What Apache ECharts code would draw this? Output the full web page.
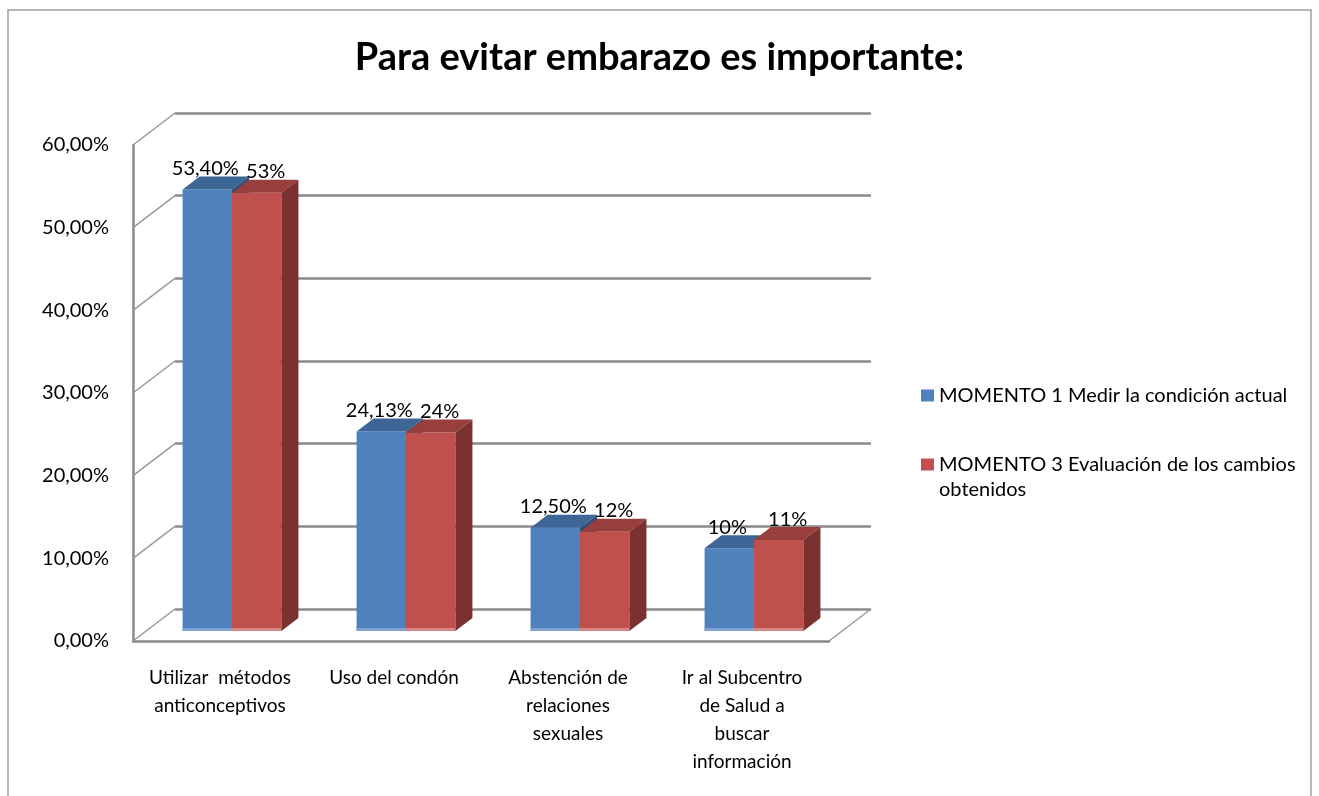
<!DOCTYPE html>
<html>
<head>
<meta charset="utf-8">
<script src="https://cdn.jsdelivr.net/npm/echarts@6/dist/echarts.min.js"></script>
<style>
  html, body { margin: 0; padding: 0; background: #fff; }
  #chart { width: 1319px; height: 796px; }
</style>
</head>
<body>
<div id="chart"></div>
<script>
// datos
var categorias = [
  "Utilizar  métodos\nanticonceptivos",
  "Uso del condón",
  "Abstención de\nrelaciones\nsexuales",
  "Ir al Subcentro\nde Salud a\nbuscar\ninformación"
];
var nombres = [
  "MOMENTO 1 Medir la condición actual",
  "MOMENTO 3 Evaluación de los cambios obtenidos"
];
var momento1 = [53.4, 24.13, 12.5, 10];
var momento3 = [53, 24, 12, 11];
var etiquetas1 = ["53,40%", "24,13%", "12,50%", "10%"];
var etiquetas3 = ["53%", "24%", "12%", "11%"];
var ticks = [0, 10, 20, 30, 40, 50, 60];

var FONT = "Lato";
// profundidad de la pared (perspectiva)
var WALL_DX = 42, WALL_DY = -32;
// posicion de la cara frontal de las barras y su profundidad
var BAR_DX = 12, BAR_DY = -10;
var DEPTH_DX = 17, DEPTH_DY = -13;
var BAR_RATIO = 0.284;

var colores = {
  azul: { front: "#4F81BD", top: "#3D6696", side: "#2F5078", base: "#7EA2D2" },
  rojo: { front: "#C0504D", top: "#983F3D", side: "#7B3130", base: "#D68885" }
};

var myChart = echarts.init(document.getElementById("chart"));

function barra(shift, col, etiquetas, labelDx) {
  return function (params, api) {
    var i = api.value(0);
    var v = api.value(1);
    var base = api.coord([i, 0]);
    var top = api.coord([i, v]);
    var bw = api.size([1, 0])[0] * BAR_RATIO;
    var x0 = base[0] + shift * bw + BAR_DX;
    var x1 = x0 + bw;
    var yb = base[1] + BAR_DY;
    var yt = top[1] + BAR_DY;
    return {
      type: "group",
      children: [
        { type: "rect", shape: { x: x0, y: yt, width: bw, height: yb - yt },
          style: { fill: col.front } },
        { type: "rect", shape: { x: x0, y: yb - 3, width: bw, height: 3 },
          style: { fill: col.base } },
        { type: "polygon",
          shape: { points: [[x0, yt], [x1, yt], [x1 + DEPTH_DX, yt + DEPTH_DY], [x0 + DEPTH_DX, yt + DEPTH_DY]] },
          style: { fill: col.top } },
        { type: "polygon",
          shape: { points: [[x1, yt], [x1 + DEPTH_DX, yt + DEPTH_DY], [x1 + DEPTH_DX, yb + DEPTH_DY], [x1, yb]] },
          style: { fill: col.side } },
        { type: "text",
          style: { text: etiquetas[params.dataIndex], x: (x0 + x1) / 2 + labelDx, y: yt - 21,
            fill: "#000", font: "20px " + FONT, align: "center", verticalAlign: "middle" } }
      ]
    };
  };
}

var option = {
  animation: false,
  title: {
    text: "Para evitar embarazo es importante:",
    left: "center",
    top: 34,
    textStyle: { fontFamily: FONT, fontSize: 38, fontWeight: "bold", color: "#000" }
  },
  legend: {
    orient: "vertical",
    left: 916,
    top: 378,
    itemWidth: 13,
    itemHeight: 12,
    itemGap: 19,
    icon: "rect",
    data: nombres,
    formatter: function (name) {
      if (name === nombres[1]) return " \n" + name.replace(" obtenidos", "\nobtenidos");
      return name;
    },
    textStyle: { fontFamily: FONT, fontSize: 20, lineHeight: 25, color: "#000" }
  },
  graphic: [
    { type: "rect", shape: { x: 8, y: 10, width: 1303, height: 800 },
      style: { fill: null, stroke: "#a0a0a0", lineWidth: 1.5 }, silent: true }
  ],
  grid: [
    // plano frontal
    { left: 133, top: 145, width: 696, height: 496 },
    // pared del fondo
    { left: 133 + WALL_DX, top: 145 + WALL_DY, width: 696, height: 496 }
  ],
  xAxis: [
    {
      gridIndex: 0,
      type: "category",
      data: categorias,
      axisLine: { show: true, lineStyle: { color: "#8a8a8a", width: 2.5 } },
      axisTick: { show: false },
      axisLabel: { interval: 0, margin: 23, fontFamily: FONT, fontSize: 19, lineHeight: 28, color: "#000" }
    },
    {
      gridIndex: 1,
      type: "category",
      data: categorias,
      axisLine: { show: false },
      axisTick: { show: false },
      axisLabel: { show: false }
    }
  ],
  yAxis: [
    {
      gridIndex: 0,
      type: "value",
      min: 0,
      max: 60,
      interval: 10,
      axisLine: { show: true, lineStyle: { color: "#8a8a8a", width: 2.5 } },
      axisTick: { show: false },
      splitLine: { show: false },
      axisLabel: {
        margin: 24,
        fontFamily: FONT,
        fontSize: 20,
        color: "#000",
        padding: [5, 0, 0, 0],
        formatter: function (v) { return v.toFixed(2).replace(".", ",") + "%"; }
      }
    },
    {
      gridIndex: 1,
      type: "value",
      min: 0,
      max: 60,
      interval: 10,
      axisLine: { show: false },
      axisTick: { show: false },
      axisLabel: { show: false },
      splitLine: { show: true, lineStyle: { color: "#8a8a8a", width: 2.5 } }
    }
  ],
  series: [
    {
      // diagonales de la pared lateral y del piso
      type: "custom",
      silent: true,
      xAxisIndex: 0,
      yAxisIndex: 0,
      data: ticks.map(function (t) { return [0, t]; }),
      renderItem: function (params, api) {
        var cs = params.coordSys;
        var y = api.coord([0, api.value(1)])[1];
        var kids = [
          { type: "line", shape: { x1: cs.x, y1: y, x2: cs.x + WALL_DX, y2: y + WALL_DY },
            style: { stroke: "#9a9a9a", lineWidth: 1.5 } }
        ];
        if (api.value(1) === 0) {
          var xr = cs.x + cs.width;
          kids.push({ type: "line", shape: { x1: xr, y1: y, x2: xr + WALL_DX, y2: y + WALL_DY },
            style: { stroke: "#9a9a9a", lineWidth: 1.5 } });
        }
        return { type: "group", children: kids };
      },
      z: 1
    },
    {
      name: nombres[0],
      type: "custom",
      xAxisIndex: 0,
      yAxisIndex: 0,
      itemStyle: { color: colores.azul.front },
      data: momento1.map(function (v, i) { return [i, v]; }),
      renderItem: barra(-1, colores.azul, etiquetas1, -2),
      z: 3
    },
    {
      name: nombres[1],
      type: "custom",
      xAxisIndex: 0,
      yAxisIndex: 0,
      itemStyle: { color: colores.rojo.front },
      data: momento3.map(function (v, i) { return [i, v]; }),
      renderItem: barra(0, colores.rojo, etiquetas3, 9),
      z: 4
    }
  ]
};

myChart.setOption(option);
</script>
</body>
</html>
